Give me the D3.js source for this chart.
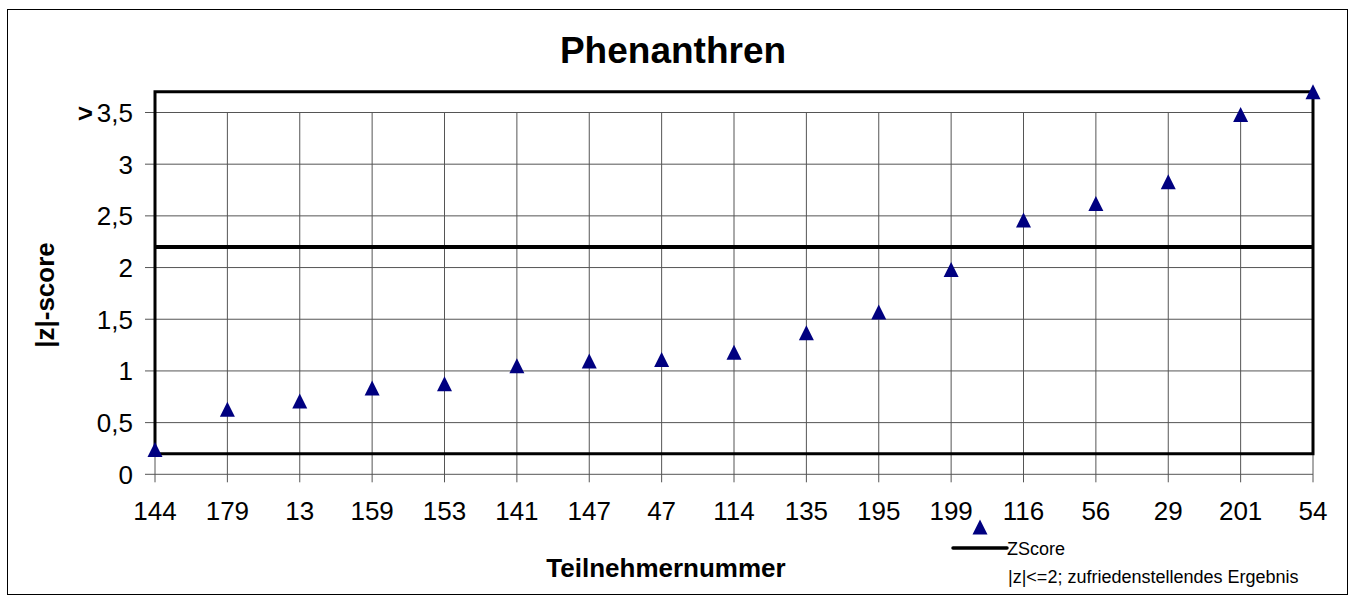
<!DOCTYPE html>
<html>
<head>
<meta charset="utf-8">
<script src="https://cdn.jsdelivr.net/npm/d3@7/dist/d3.min.js"></script>
<style>
  html, body { margin: 0; padding: 0; background: #fff; }
  svg { display: block; font-family: "Liberation Sans", Arial, sans-serif; }
</style>
</head>
<body>
<svg id="chart" width="1353" height="596"></svg>
<script>
// Participants, sorted by |z|-score
const participants = ["144", "179", "13", "159", "153", "141", "147", "47", "114",
                      "135", "195", "199", "116", "56", "29", "201", "54"];
const zScores = [0.24, 0.63, 0.71, 0.835, 0.875, 1.05, 1.095, 1.11, 1.18,
                 1.37, 1.57, 1.98, 2.46, 2.62, 2.83, 3.48, 3.70];

// Y axis ticks; the top tick stands for "> 3,5"
const yTicks = [0, 0.5, 1, 1.5, 2, 2.5, 3, 3.5];

// Limit frame: lower and upper bound of the plotted range, and the satisfaction line
const frameBounds = [0.2, 3.7];
const satisfactoryLine = [2.2];

const svg = d3.select("#chart");

const x = d3.scalePoint().domain(participants).range([155, 1313]);
const y = d3.scaleLinear().domain([0, 3.5]).range([474.3, 112.5]);

const de = d3.formatLocale({ decimal: ",", thousands: ".", grouping: [3], currency: ["", " €"] });
const fmt = v => de.format("")(v);

// outer frame
svg.append("rect")
  .attr("x", 7.5).attr("y", 9.5)
  .attr("width", 1340).attr("height", 585)
  .attr("fill", "#fff").attr("stroke", "#000").attr("stroke-width", 1);

// title
svg.append("text")
  .attr("x", 673).attr("y", 63)
  .attr("text-anchor", "middle")
  .attr("font-weight", "bold").attr("font-size", 37)
  .text("Phenanthren");

const grid = svg.append("g").attr("stroke", "#555").attr("stroke-width", 1);

// horizontal gridlines with tick marks on the left
grid.selectAll("line.h").data(yTicks).join("line")
  .attr("class", "h")
  .attr("x1", x.range()[0] - 10).attr("x2", x.range()[1])
  .attr("y1", d => y(d)).attr("y2", d => y(d));

// vertical gridlines with tick marks below
grid.selectAll("line.v").data(participants).join("line")
  .attr("class", "v")
  .attr("x1", d => x(d)).attr("x2", d => x(d))
  .attr("y1", y(3.5)).attr("y2", y(0) + 8);

// y tick labels
const yLab = svg.append("g").attr("font-size", 26).attr("text-anchor", "end");
yLab.selectAll("text").data(yTicks).join("text")
  .attr("x", 133).attr("y", d => y(d)).attr("dy", "0.36em")
  .each(function (d, i) {
    const t = d3.select(this);
    if (i === yTicks.length - 1) {
      t.append("tspan").attr("font-weight", "bold").text(">");
      t.append("tspan").attr("dx", 4).text(fmt(d));
    } else {
      t.text(fmt(d));
    }
  });

// x tick labels
svg.append("g").attr("font-size", 26).attr("text-anchor", "middle")
  .selectAll("text").data(participants).join("text")
  .attr("x", d => x(d)).attr("y", 520)
  .text(d => d);

// limit frame and satisfaction line
const first = participants[0], last = participants[participants.length - 1];
const framePts = [[first, frameBounds[0]], [first, frameBounds[1]], [last, frameBounds[1]],
                  [last, frameBounds[0]], [first, frameBounds[0]]];
const lineGen = d3.line().x(d => x(d[0])).y(d => y(d[1]));
svg.append("path")
  .attr("d", lineGen(framePts))
  .attr("fill", "none").attr("stroke", "#000").attr("stroke-width", 3)
  .attr("stroke-linejoin", "miter");
svg.append("path")
  .attr("d", lineGen([[first, satisfactoryLine[0]], [last, satisfactoryLine[0]]]))
  .attr("fill", "none").attr("stroke", "#000").attr("stroke-width", 4);

// triangle markers
const tri = "M0,-7.5L7.5,7.5L-7.5,7.5Z";
svg.append("g").selectAll("path").data(participants).join("path")
  .attr("d", tri)
  .attr("transform", (d, i) => `translate(${x(d)},${y(zScores[i])})`)
  .attr("fill", "#000080");

// axis titles
svg.append("text")
  .attr("transform", "translate(54,295) rotate(-90)")
  .attr("text-anchor", "middle")
  .attr("font-weight", "bold").attr("font-size", 26)
  .text("|z|-score");

svg.append("text")
  .attr("x", 666).attr("y", 577)
  .attr("text-anchor", "middle")
  .attr("font-weight", "bold").attr("font-size", 26)
  .text("Teilnehmernummer");

// legend
const lg = svg.append("g");
lg.append("path").attr("d", tri).attr("transform", "translate(980,527)").attr("fill", "#000080");
lg.append("line").attr("x1", 953).attr("x2", 1007).attr("y1", 548).attr("y2", 548)
  .attr("stroke", "#000").attr("stroke-width", 3.5).attr("stroke-linecap", "round");
lg.append("text").attr("x", 1007).attr("y", 555).attr("font-size", 18).text("ZScore");
lg.append("text").attr("x", 1008).attr("y", 583).attr("font-size", 18)
  .text("|z|<=2; zufriedenstellendes Ergebnis");
</script>
</body>
</html>
